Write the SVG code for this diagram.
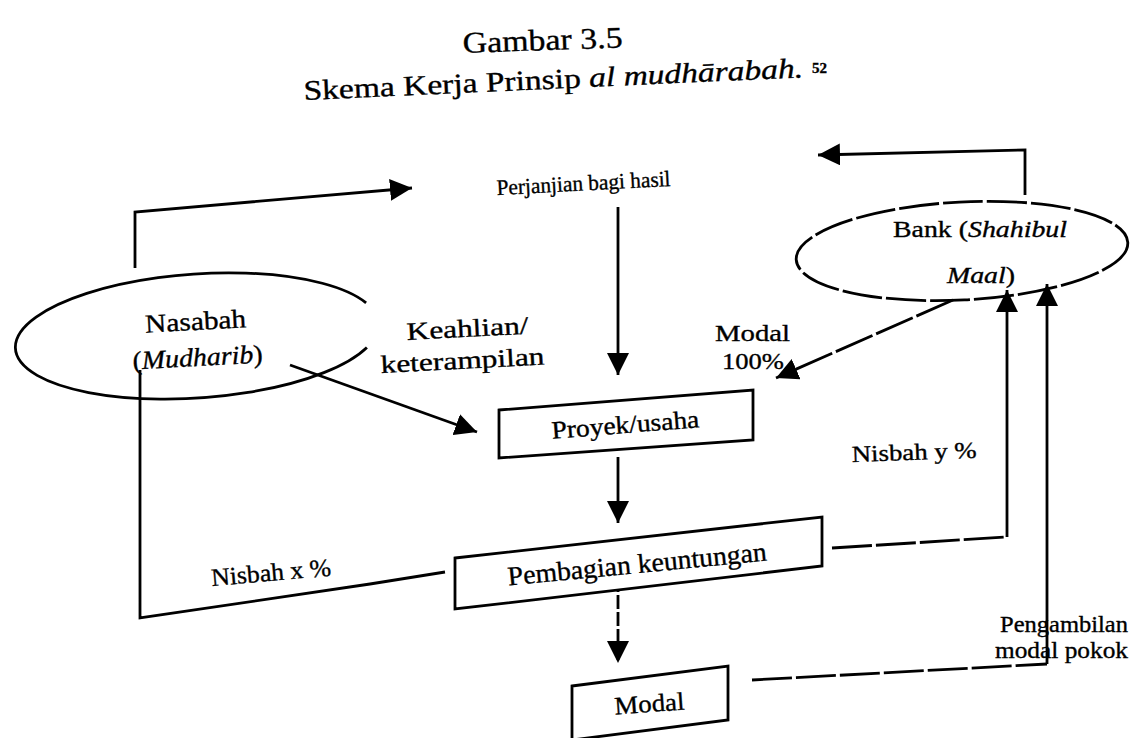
<svg xmlns="http://www.w3.org/2000/svg" width="1131" height="738" viewBox="0 0 1131 738">
<defs>
<style>
text{font-family:"Liberation Serif","Times New Roman",serif;fill:#000;stroke:#000;stroke-width:0.35;}
.ln{fill:none;stroke:#000;stroke-width:2.8;stroke-linejoin:miter;}
.ds{stroke-dasharray:40 4;}
.bx{fill:#fff;stroke:#000;stroke-width:2.8;}
.it{font-style:italic;}
</style>
<marker id="ah" markerUnits="userSpaceOnUse" markerWidth="24" markerHeight="22" refX="22" refY="11" orient="auto">
<path d="M0,0 L22,11 L0,22 z" fill="#000"/>
</marker>
</defs>
<rect width="1131" height="738" fill="#fff"/>

<g id="title">
<text x="463" y="53" font-size="30" textLength="160" lengthAdjust="spacingAndGlyphs" transform="rotate(-2 463 53)">Gambar 3.5</text>
<text x="304" y="100" font-size="28" textLength="500" lengthAdjust="spacingAndGlyphs" transform="rotate(-2.6 304 100)">Skema Kerja Prinsip <tspan class="it">al mudhārabah.</tspan></text>
<text x="812" y="73" font-size="15" font-weight="bold">52</text>
</g>

<g id="connectors">
<polyline class="ln" points="135,268 135,212 412,188" marker-end="url(#ah)"/>
<polyline class="ln" points="1025,195 1025,150 818,155" marker-end="url(#ah)"/>
<line class="ln" x1="618" y1="207" x2="618" y2="375" marker-end="url(#ah)"/>
<line class="ln" x1="290" y1="365" x2="477" y2="432" marker-end="url(#ah)"/>
<line class="ln ds" x1="953" y1="300" x2="776" y2="378" marker-end="url(#ah)"/>
<line class="ln" x1="618" y1="457" x2="618" y2="523" marker-end="url(#ah)"/>
<polyline class="ln" points="445,572 370,584 140,618 140,370"/>
<line class="ln" x1="618" y1="578" x2="618" y2="663" stroke-dasharray="14 3" marker-end="url(#ah)"/>
<polyline class="ln ds" points="832,548 1007,537"/>
<line class="ln" x1="1007" y1="537" x2="1007" y2="290" marker-end="url(#ah)"/>
<polyline class="ln ds" points="752,680 1047,664"/>
<line class="ln" x1="1047" y1="664" x2="1047" y2="284" marker-end="url(#ah)"/>
</g>

<g id="nasabah">
<path class="ln" d="M366.1,302.9 A182,62 -4 1 0 366.9,347.4"/>
<text x="196" y="330" font-size="26" text-anchor="middle" textLength="101" lengthAdjust="spacingAndGlyphs" transform="rotate(-3 196 330)">Nasabah</text>
<text x="198" y="366" font-size="26" text-anchor="middle" textLength="130" lengthAdjust="spacingAndGlyphs" transform="rotate(-3 198 366)">(<tspan class="it">Mudharib</tspan>)</text>
</g>

<g id="bank">
<ellipse class="ln ds" cx="962" cy="251" rx="166" ry="49" transform="rotate(-3 962 251)"/>
<text x="893" y="237" font-size="23" textLength="174" lengthAdjust="spacingAndGlyphs">Bank (<tspan class="it">Shahibul</tspan></text>
<text x="947" y="283" font-size="23" textLength="68" lengthAdjust="spacingAndGlyphs"><tspan class="it">Maal</tspan>)</text>
</g>

<g id="perjanjian">
<text x="497" y="195" font-size="22" textLength="174" lengthAdjust="spacingAndGlyphs" transform="rotate(-3 497 195)">Perjanjian bagi hasil</text>
</g>

<g id="label-keahlian">
<text x="407" y="340" font-size="25" textLength="122" lengthAdjust="spacingAndGlyphs" transform="rotate(-3 407 340)">Keahlian/</text>
<text x="381" y="373" font-size="25" textLength="164" lengthAdjust="spacingAndGlyphs" transform="rotate(-3 381 373)">keterampilan</text>
</g>

<g id="label-modal100">
<text x="715" y="341" font-size="24" textLength="75" lengthAdjust="spacingAndGlyphs">Modal</text>
<text x="722" y="369" font-size="24" textLength="62" lengthAdjust="spacingAndGlyphs">100%</text>
</g>

<g id="proyek">
<polygon class="bx" points="499,410 753,390 753,440 499,458"/>
<text x="626" y="433" font-size="25" text-anchor="middle" textLength="148" lengthAdjust="spacingAndGlyphs" transform="rotate(-4.5 626 433)">Proyek/usaha</text>
</g>

<g id="pembagian">
<polygon class="bx" points="455,558 822,517 822,566 455,609"/>
<text x="638" y="573" font-size="27" text-anchor="middle" textLength="260" lengthAdjust="spacingAndGlyphs" transform="rotate(-5.5 638 573)">Pembagian keuntungan</text>
</g>

<g id="modal">
<polygon class="bx" points="572,686 728,666 728,720 572,740"/>
<text x="650" y="712" font-size="25" text-anchor="middle" textLength="70" lengthAdjust="spacingAndGlyphs" transform="rotate(-4 650 712)">Modal</text>
</g>

<g id="label-nisbahx">
<text x="212" y="586" font-size="25" textLength="120" lengthAdjust="spacingAndGlyphs" transform="rotate(-5 212 586)">Nisbah x %</text>
</g>

<g id="label-nisbahy">
<text x="852" y="462" font-size="23" textLength="125" lengthAdjust="spacingAndGlyphs" transform="rotate(-2 852 462)">Nisbah y %</text>
</g>

<g id="label-pengambilan">
<text x="1000" y="632" font-size="23" textLength="128" lengthAdjust="spacingAndGlyphs">Pengambilan</text>
<text x="995" y="658" font-size="23" textLength="133" lengthAdjust="spacingAndGlyphs">modal pokok</text>
</g>
</svg>
